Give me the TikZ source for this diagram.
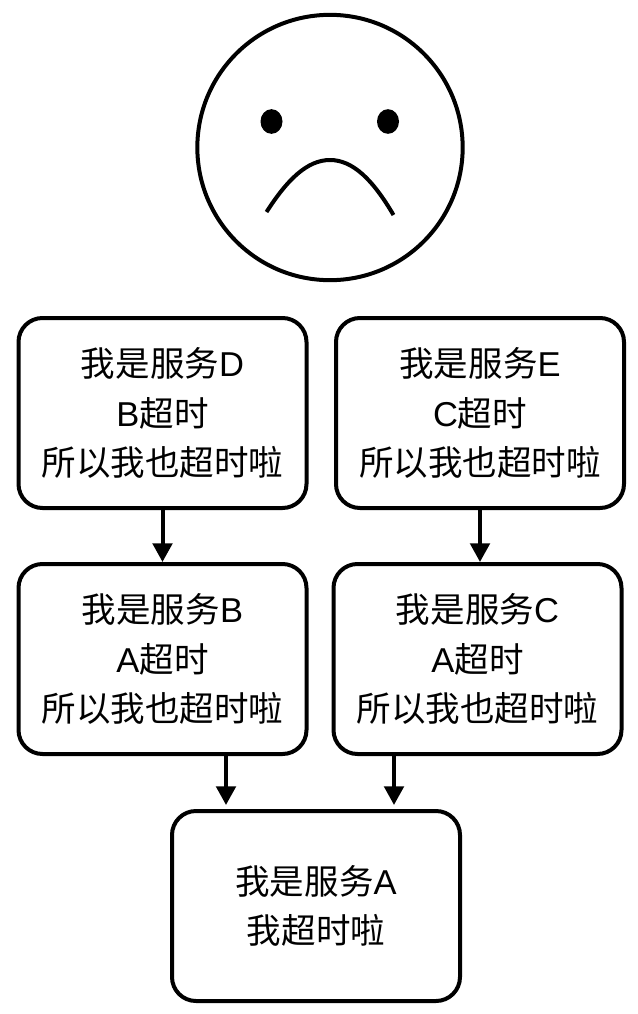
\documentclass[tikz,border=0pt]{standalone}
\usepackage{fontspec}
\setmainfont{Liberation Sans}
\newfontfamily\cjk{Noto Sans CJK SC}
\newcommand{\zh}[1]{{\cjk #1}}
\usetikzlibrary{arrows.meta,shapes.geometric}
\tikzset{
  svc/.style={draw=black,line width=3pt,rounded corners=18pt,fill=white,align=center,
    font=\fontsize{25.9}{37.3}\selectfont,inner sep=0pt,minimum width=216pt,minimum height=142.5pt},
  dep/.style={line width=3pt,-{Triangle[length=14pt,width=14.5pt]}},
  face/.style={line width=3pt},
  eye/.style={fill=black,ellipse,minimum width=16.5pt,minimum height=18.5pt,inner sep=0pt}
}
\begin{document}
\begin{tikzpicture}[x=0.75pt,y=-0.75pt]
\useasboundingbox (0,0) rectangle (638,1014);
\fill[white] (0,0) rectangle (638,1014);
% face
\node[draw,circle,face,minimum size=199pt,inner sep=0pt] (head) at (330,147.5) {};
\node[eye] (eyeL) at (271.5,121.5) {};
\node[eye] (eyeR) at (388,121.5) {};
\draw[face] (266.5,212) .. controls (287,180) and (307,160) .. (330,160) .. controls (353,160) and (373,180) .. (393.5,215);
% service boxes
\node[svc] (D) at (162.5,413) {\zh{我是服务}D\\B\zh{超时}\\\zh{所以我也超时啦}};
\node[svc] (E) at (480,413) {\zh{我是服务}E\\C\zh{超时}\\\zh{所以我也超时啦}};
\node[svc] (B) at (162.5,659) {\zh{我是服务}B\\A\zh{超时}\\\zh{所以我也超时啦}};
\node[svc] (C) at (477.5,659) {\zh{我是服务}C\\A\zh{超时}\\\zh{所以我也超时啦}};
\node[svc] (A) at (316,906) {\zh{我是服务}A\\\zh{我超时啦}};
% dependencies
\coordinate (xE) at (480,0);
\coordinate (xB) at (226,0);
\coordinate (xC) at (394,0);
\draw[dep] (D.south) -- (B.north);
\draw[dep] (E.south -| xE) -- (C.north -| xE);
\draw[dep,shorten >=3pt] (B.south -| xB) -- (A.north -| xB);
\draw[dep,shorten >=3pt] (C.south -| xC) -- (A.north -| xC);
\end{tikzpicture}
\end{document}
